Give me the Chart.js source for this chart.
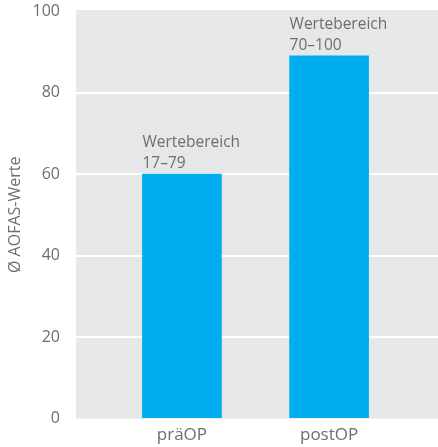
<!DOCTYPE html>
<html lang="de">
<head>
<meta charset="utf-8">
<script src="https://cdn.jsdelivr.net/npm/chart.js@4/dist/chart.umd.min.js"></script>
<style>
    html, body { margin: 0; padding: 0; background: #fff; }
    #wrap { width: 438px; height: 447px; }
</style>
</head>
<body>
<div id="wrap"><canvas id="aofas"></canvas></div>
<script>
// ============================================================
// Data
// ============================================================

const categories = ['präOP', 'postOP'];
const positions = [1, 2];
const meanScores = [60, 89];
const rangeLabels = ['17–79', '70–100'];
const yTicks = [0, 20, 40, 60, 80, 100];

const TEXT_GREY = '#6d6e71';
const BAR_BLUE = '#00aeef';
const PANEL_GREY = '#e6e7e8';
const FONT = '"Open Sans", "Noto Sans", sans-serif';

// ============================================================
// Plugins
// ============================================================

// grey panel behind the plot area
const panelBackground = {
    id: 'panelBackground',
    beforeDraw(chart) {
        const { ctx, chartArea } = chart;
        ctx.save();
        ctx.fillStyle = PANEL_GREY;
        ctx.fillRect(chartArea.left, chartArea.top - 1, chartArea.right - chartArea.left, chartArea.bottom - chartArea.top + 1);
        ctx.restore();
    }
};

// "Wertebereich" + range text above each bar, left aligned with the bar
const rangeNotes = {
    id: 'rangeNotes',
    afterDatasetsDraw(chart) {
        const { ctx } = chart;
        const meta = chart.getDatasetMeta(0);
        ctx.save();
        ctx.fillStyle = TEXT_GREY;
        ctx.font = '15.5px ' + FONT;
        ctx.textAlign = 'left';
        ctx.textBaseline = 'alphabetic';
        meta.data.forEach(function(bar, i) {
            const left = bar.x - bar.width / 2;
            ctx.fillText(rangeLabels[i], left, bar.y - 6);
            ctx.fillText('Wertebereich', left, bar.y - 27);
        });
        ctx.restore();
    }
};

// ============================================================
// Chart
// ============================================================

new Chart(document.getElementById('aofas'), {
    type: 'bar',
    data: {
        datasets: [{
            data: positions.map((x, i) => ({ x: x, y: meanScores[i] })),
            backgroundColor: BAR_BLUE,
            borderWidth: 0,
            barThickness: 79
        }]
    },
    options: {
        responsive: true,
        maintainAspectRatio: false,
        animation: false,
        layout: { padding: { top: 11, right: 0, bottom: -4, left: 0 } },
        plugins: {
            legend: { display: false },
            tooltip: { enabled: false }
        },
        scales: {
            x: {
                type: 'linear',
                offset: false,
                bounds: 'data',
                min: 0.28,
                max: 2.74,
                afterBuildTicks: function(scale) {
                    scale.ticks = positions.map(v => ({ value: v }));
                },
                ticks: {
                    color: TEXT_GREY,
                    font: { family: FONT, size: 17 },
                    padding: 6,
                    maxRotation: 0,
                    callback: function(value, index) { return categories[index]; }
                },
                grid: { display: false, drawTicks: false },
                border: { display: false }
            },
            y: {
                min: 0,
                max: 100,
                afterBuildTicks: function(scale) {
                    scale.ticks = yTicks.map(v => ({ value: v }));
                },
                afterFit: function(scale) {
                    scale.width = 76;
                    scale.paddingTop = 0;
                    scale.paddingBottom = 0;
                },
                ticks: {
                    color: TEXT_GREY,
                    font: { family: FONT, size: 16 },
                    padding: 16
                },
                grid: {
                    drawTicks: false,
                    lineWidth: 2,
                    color: function(ctx) {
                        const v = ctx.tick && ctx.tick.value;
                        return (v === 0 || v === 100) ? 'rgba(0,0,0,0)' : '#ffffff';
                    }
                },
                border: { display: false },
                title: {
                    display: true,
                    text: 'Ø AOFAS-Werte',
                    color: TEXT_GREY,
                    font: { family: FONT, size: 16 },
                    padding: { top: 6, bottom: 0 }
                }
            }
        }
    },
    plugins: [panelBackground, rangeNotes]
});
</script>
</body>
</html>
